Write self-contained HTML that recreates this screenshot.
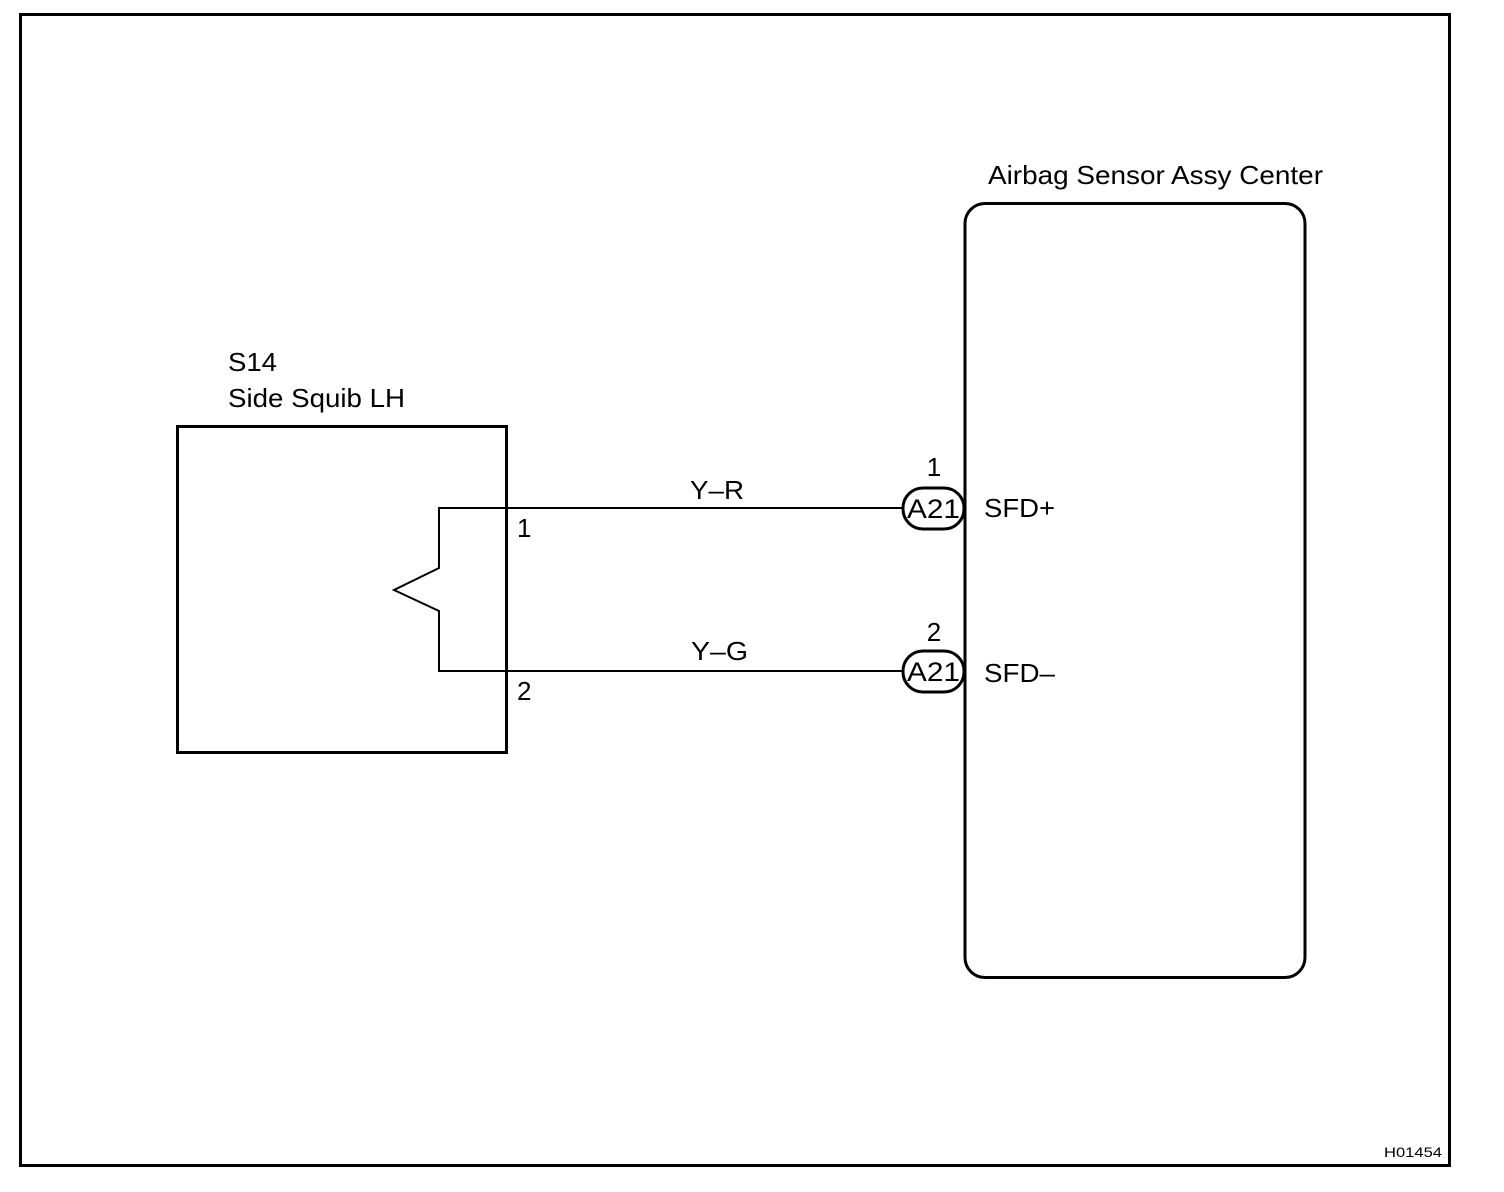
<!DOCTYPE html>
<html><head><style>
html,body{margin:0;padding:0;background:#fff;}
svg{display:block;}
text{font-family:"Liberation Sans",Arial,sans-serif;fill:#000;}
</style></head><body>
<svg width="1504" height="1192" viewBox="0 0 1504 1192">
<rect x="20.5" y="14.5" width="1429" height="1151" fill="none" stroke="#000" stroke-width="3"/>
<rect x="177.5" y="426.5" width="329" height="326" fill="none" stroke="#000" stroke-width="3"/>
<rect x="965" y="203.5" width="340" height="774" rx="20" fill="none" stroke="#000" stroke-width="3"/>
<polyline points="902,508 439,508 439,568 394,590 439,611 439,671 902,671" fill="none" stroke="#000" stroke-width="2"/>
<rect x="903" y="488" width="61" height="41" rx="20" fill="#fff" stroke="#000" stroke-width="3"/>
<rect x="903" y="651" width="61" height="41" rx="20" fill="#fff" stroke="#000" stroke-width="3"/>
<text x="907" y="518" font-size="27" textLength="53" lengthAdjust="spacingAndGlyphs">A21</text>
<text x="907" y="681" font-size="27" textLength="53" lengthAdjust="spacingAndGlyphs">A21</text>
<text x="934" y="476" font-size="26" text-anchor="middle">1</text>
<text x="934" y="641" font-size="26" text-anchor="middle">2</text>
<text x="984" y="517" font-size="26" textLength="71" lengthAdjust="spacingAndGlyphs">SFD+</text>
<text x="984" y="682" font-size="26" textLength="71" lengthAdjust="spacingAndGlyphs">SFD–</text>
<text x="690" y="499" font-size="26" textLength="54" lengthAdjust="spacingAndGlyphs">Y–R</text>
<text x="691" y="660" font-size="26" textLength="57" lengthAdjust="spacingAndGlyphs">Y–G</text>
<text x="517" y="537" font-size="26">1</text>
<text x="517" y="700" font-size="26">2</text>
<text x="228" y="371" font-size="26" textLength="49" lengthAdjust="spacingAndGlyphs">S14</text>
<text x="228" y="407" font-size="26" textLength="177" lengthAdjust="spacingAndGlyphs">Side Squib LH</text>
<text x="988" y="184" font-size="26" textLength="335" lengthAdjust="spacingAndGlyphs">Airbag Sensor Assy Center</text>
<text x="1384" y="1157" font-size="14" textLength="58" lengthAdjust="spacingAndGlyphs">H01454</text>
</svg>
</body></html>
